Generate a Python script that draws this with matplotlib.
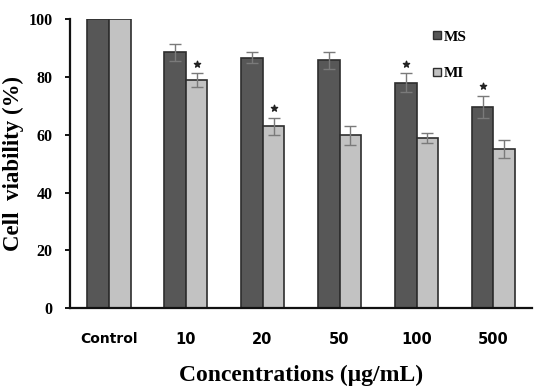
import matplotlib
matplotlib.use("Agg")
import matplotlib.pyplot as plt
from matplotlib.lines import Line2D
import numpy as np

categories = ["Control", "10", "20", "50", "100", "500"]
ms_values = [100, 88.5, 86.7, 85.8, 78.0, 69.6]
mi_values = [100, 78.9, 62.9, 59.8, 58.9, 55.0]
ms_err = [0, 2.9, 2.0, 2.9, 3.3, 3.8]
mi_err = [0, 2.4, 3.0, 3.3, 1.7, 3.0]
ms_star = [False, False, False, False, True, True]
mi_star = [False, True, True, False, False, False]
yticks = [0, 20, 40, 60, 80, 100]

serif = "Liberation Serif"
dark = "#575757"
light = "#c2c2c2"
edge = "#2e2e2e"

fig = plt.figure(figsize=(5.39, 3.90), dpi=100)
ax = fig.add_axes([0.130, 0.210, 0.857, 0.741])

x = np.arange(len(categories))
w = 0.285
ax.bar(x - w / 2, ms_values, w, color=dark, edgecolor=edge, linewidth=1.2, zorder=2)
ax.bar(x + w / 2, mi_values, w, color=light, edgecolor=edge, linewidth=1.2, zorder=2)

for xs, vals, errs in [(x - w / 2, ms_values, ms_err), (x + w / 2, mi_values, mi_err)]:
    xe = [xx for xx, e in zip(xs, errs) if e > 0]
    ve = [v for v, e in zip(vals, errs) if e > 0]
    ee = [e for e in errs if e > 0]
    ax.errorbar(xe, ve, yerr=ee, fmt="none", ecolor="#7a7a7a", elinewidth=1.0,
                capsize=4, capthick=1.0, zorder=3)

for xs, vals, errs, stars in [(x - w / 2, ms_values, ms_err, ms_star),
                              (x + w / 2, mi_values, mi_err, mi_star)]:
    sx = [xx for xx, s in zip(xs, stars) if s]
    sy = [v + e + 3.3 for v, e, s in zip(vals, errs, stars) if s]
    ax.scatter(sx, sy, marker="*", s=22, color="#222222", zorder=4)

ax.set_xlim(-0.5, len(categories) - 0.5)
ax.set_ylim(0, 100)
ax.set_yticks(yticks)
ax.set_yticklabels([str(t) for t in yticks], fontfamily=serif, fontweight="bold", fontsize=11.5)
ax.set_xticks(x)
ax.set_xticklabels(categories, fontfamily="DejaVu Sans", fontweight="bold", fontsize=10.5)
xtl = ax.get_xticklabels()
xtl[0].set_fontsize(10)
ax.tick_params(axis="x", length=0, pad=17)
ax.tick_params(axis="y", length=3.5, width=1.3, direction="out", pad=9)

for s in ["top", "right"]:
    ax.spines[s].set_visible(False)
for s in ["left", "bottom"]:
    ax.spines[s].set_linewidth(1.6)
    ax.spines[s].set_color("#111111")

ax.set_ylabel("Cell  viability (%)", fontfamily=serif, fontweight="bold", fontsize=16.5, labelpad=3)
ax.set_xlabel("Concentrations (\u03bcg/mL)", fontfamily=serif, fontweight="bold", fontsize=17, labelpad=13)

handles = [Line2D([], [], marker="s", linestyle="none", markersize=6,
                  markerfacecolor=dark, markeredgecolor=edge, markeredgewidth=1.0),
           Line2D([], [], marker="s", linestyle="none", markersize=6,
                  markerfacecolor=light, markeredgecolor=edge, markeredgewidth=1.0)]
leg = ax.legend(handles, ["MS", "MI"], loc="upper left", bbox_to_anchor=(0.755, 1.01), frameon=False,
                prop={"family": serif, "weight": "bold", "size": 11},
                handlelength=0.6, handletextpad=0.15, labelspacing=1.5)

fig.savefig("out.png", dpi=100)
